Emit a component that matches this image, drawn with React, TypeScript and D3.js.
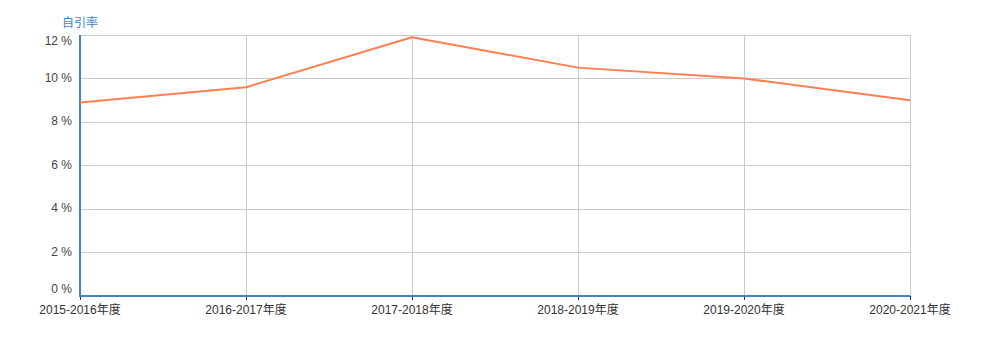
import React from "react";
import * as d3 from "d3";

const categories = ["2015-2016年度", "2016-2017年度", "2017-2018年度", "2018-2019年度", "2019-2020年度", "2020-2021年度"];
const selfCitationRate = [8.9, 9.6, 11.9, 10.5, 10.0, 9.0];
const yTicks = [0, 2, 4, 6, 8, 10, 12];
const yAxisTitle = "自引率";

const W = 989;
const H = 354;
const M = { left: 80, right: 79, top: 35, bottom: 58 };
const FONT = "'Liberation Sans', 'Noto Sans CJK SC', sans-serif";

export default function App() {
  const x = d3.scalePoint<string>().domain(categories).range([M.left, W - M.right]);
  const y = d3.scaleLinear().domain([0, 12]).range([H - M.bottom, M.top]);
  const line = d3
    .line<number>()
    .x((_, i) => x(categories[i]) as number)
    .y((d) => y(d));
  const x0 = M.left;
  const x1 = W - M.right;
  const y0 = y(0);
  const yTop = y(12);
  return (
    <svg width={W} height={H} style={{ position: "absolute", left: 0, top: 0, display: "block" }}>
      <rect x={0} y={0} width={W} height={H} fill="#fff" />
      {yTicks.map((t) => (
        <line key={"gy" + t} x1={x0} x2={x1} y1={y(t)} y2={y(t)} stroke="#ccc" strokeWidth={1} shapeRendering="crispEdges" />
      ))}
      {categories.map((c) => (
        <line key={"gx" + c} x1={x(c)} x2={x(c)} y1={yTop} y2={y0} stroke="#ccc" strokeWidth={1} shapeRendering="crispEdges" />
      ))}
      {yTicks.map((t) => {
        let yy = y(t) - 1;
        if (t === 12) yy = y(t) + 6;
        if (t === 0) yy = y(t) - 7;
        return (
          <text key={"ty" + t} x={72} y={yy} dy="0.35em" textAnchor="end" fontSize={12} fill="#444" fontFamily={FONT}>
            {t + " %"}
          </text>
        );
      })}
      {categories.map((c) => (
        <g key={"tx" + c}>
          <line x1={x(c)} x2={x(c)} y1={y0} y2={y0 + 4} stroke="#333" strokeWidth={1} shapeRendering="crispEdges" />
          <text x={x(c)} y={y0 + 14} dy="0.35em" textAnchor="middle" fontSize={12} fill="#333" fontFamily={FONT}>
            {c}
          </text>
        </g>
      ))}
      <line x1={x0} x2={x0} y1={yTop} y2={y0 + 1} stroke="#3d85c6" strokeWidth={2} />
      <line x1={x0 - 1} x2={x1} y1={y0} y2={y0} stroke="#3d85c6" strokeWidth={2} />
      <text x={62} y={23} dy="0.35em" fontSize={12} fill="#3d85c6" fontFamily={FONT}>
        {yAxisTitle}
      </text>
      <path d={line(selfCitationRate) || ""} fill="none" stroke="#ff7f50" strokeWidth={2} strokeLinejoin="round" />
    </svg>
  );
}
